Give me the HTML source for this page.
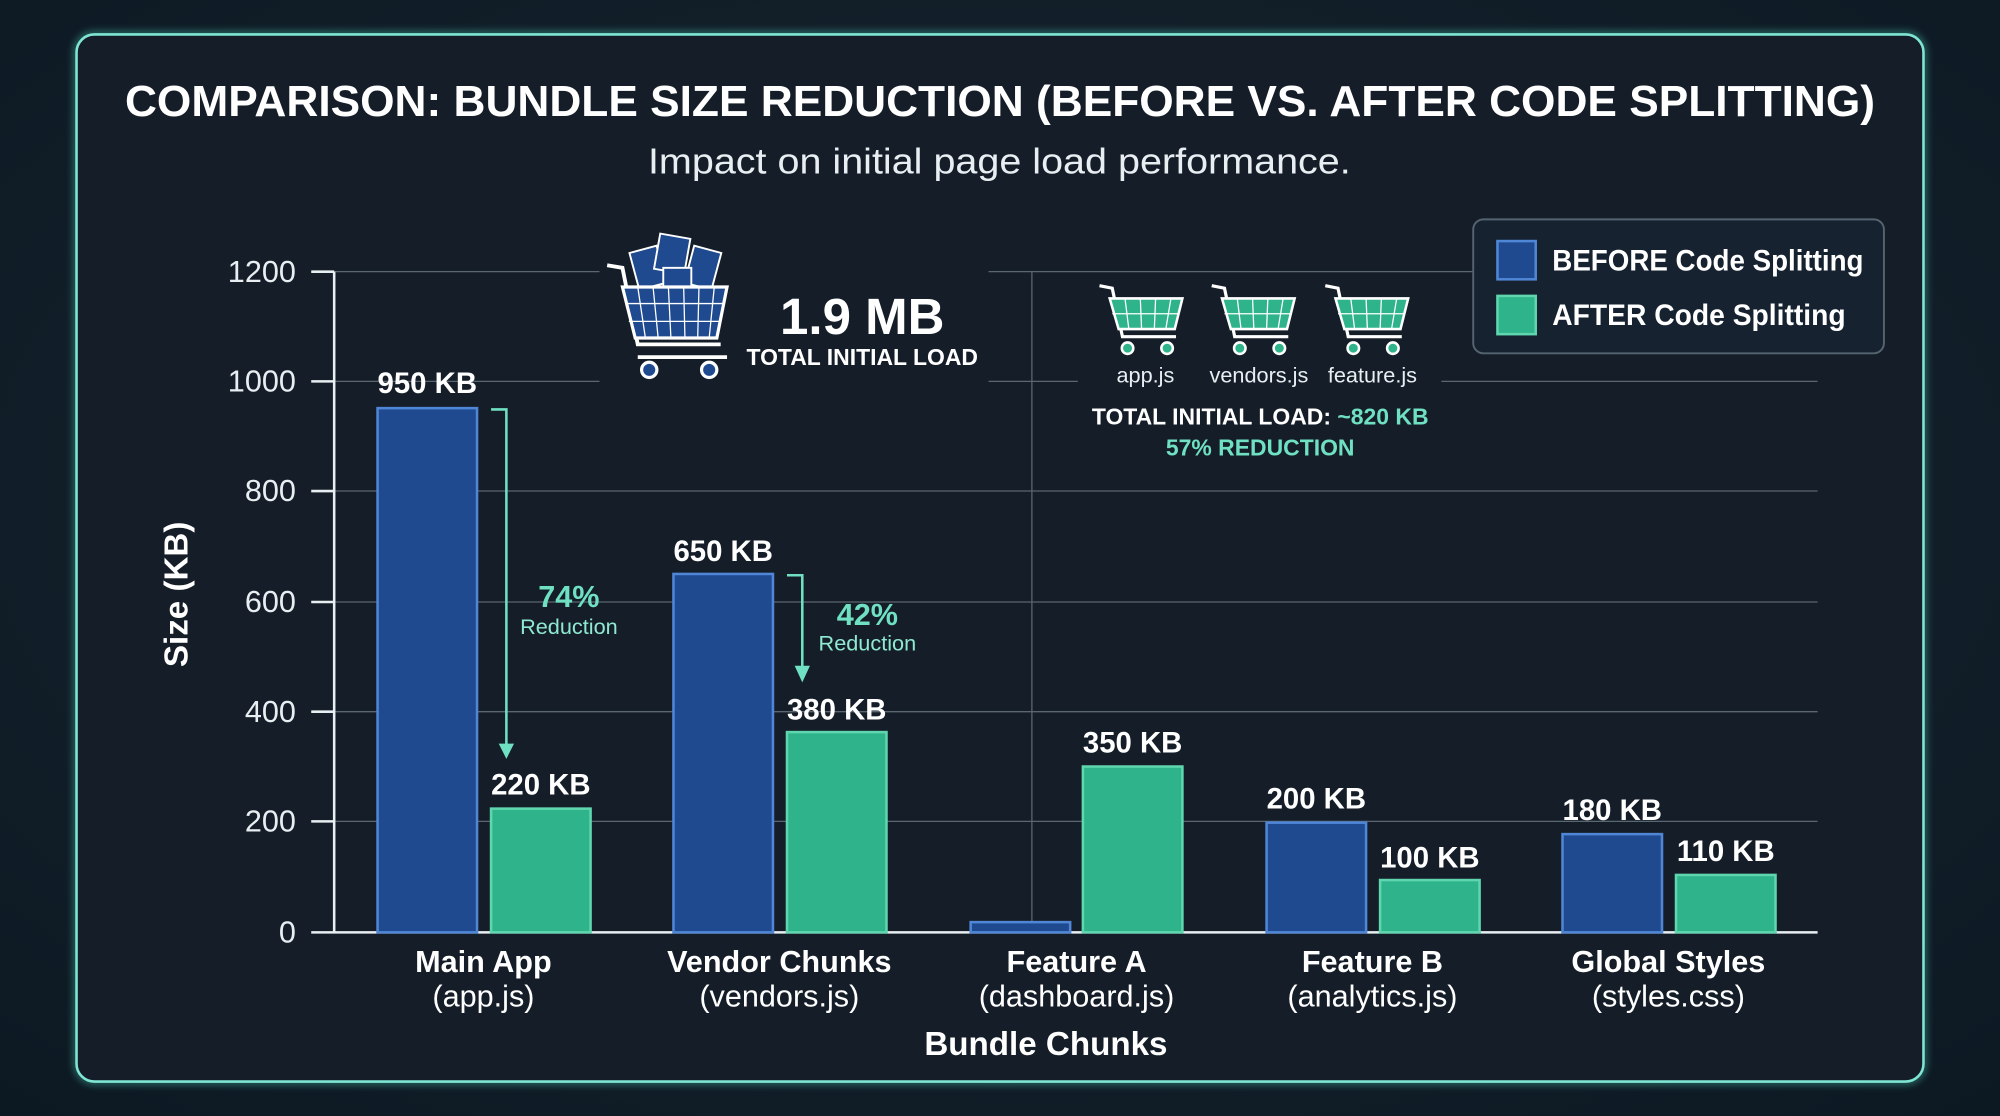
<!DOCTYPE html>
<html><head><meta charset="utf-8"><style>
html,body{margin:0;padding:0;background:#0f1a24;}
svg{display:block;}
text{font-family:"Liberation Sans",sans-serif;}
</style></head><body>
<svg width="2000" height="1116" viewBox="0 0 1568 875" preserveAspectRatio="none">
<defs>
<radialGradient id="bg" cx="50%" cy="45%" r="75%">
<stop offset="0" stop-color="#1a2732"/><stop offset="1" stop-color="#0c1822"/>
</radialGradient>
<filter id="glow"><feGaussianBlur stdDeviation="3"/></filter>
</defs>
<rect width="1568" height="875" fill="url(#bg)"/>
<rect x="60" y="27" width="1448" height="821" rx="14" fill="none" stroke="#4fd8c0" stroke-width="5" opacity="0.45" filter="url(#glow)"/>
<rect x="60" y="27" width="1448" height="821" rx="14" fill="#151e28" stroke="#7fe6d4" stroke-width="2"/>
<text x="98" y="91" font-size="34" font-weight="bold" fill="#fff" textLength="1372" lengthAdjust="spacingAndGlyphs">COMPARISON: BUNDLE SIZE REDUCTION (BEFORE VS. AFTER CODE SPLITTING)</text>
<text x="508" y="136" font-size="28" fill="#e8eef2" textLength="551" lengthAdjust="spacingAndGlyphs">Impact on initial page load performance.</text>
<g stroke="#5a6670" stroke-width="1">
<line x1="262" y1="213" x2="1425" y2="213"/>
<line x1="262" y1="299" x2="1425" y2="299"/>
<line x1="262" y1="385" x2="1425" y2="385"/>
<line x1="262" y1="472" x2="1425" y2="472"/>
<line x1="262" y1="558" x2="1425" y2="558"/>
<line x1="262" y1="644" x2="1425" y2="644"/>
<line x1="809" y1="213" x2="809" y2="731"/>
</g>
<g stroke="#e8eef2" stroke-width="2">
<line x1="262" y1="213" x2="262" y2="731"/>
<line x1="244" y1="731" x2="1425" y2="731"/>
<line x1="244" y1="213" x2="262" y2="213"/><line x1="244" y1="299" x2="262" y2="299"/><line x1="244" y1="385" x2="262" y2="385"/><line x1="244" y1="472" x2="262" y2="472"/><line x1="244" y1="558" x2="262" y2="558"/><line x1="244" y1="644" x2="262" y2="644"/>
</g>
<g font-size="24" fill="#e8eef2" text-anchor="end">
<text x="232" y="221">1200</text><text x="232" y="307">1000</text><text x="232" y="393">800</text><text x="232" y="480">600</text><text x="232" y="566">400</text><text x="232" y="652">200</text><text x="232" y="739">0</text>
</g>
<text transform="translate(147,466) rotate(-90)" text-anchor="middle" font-size="26" font-weight="bold" fill="#fff">Size (KB)</text>
<g fill="#1f4a8f" stroke="#4f86d6" stroke-width="2">
<rect x="296" y="320" width="78" height="411"/>
<rect x="528" y="450" width="78" height="281"/>
<rect x="761" y="723" width="78" height="8"/>
<rect x="993" y="645" width="78" height="86"/>
<rect x="1225" y="654" width="78" height="77"/>
</g>
<g fill="#2fb38a" stroke="#5fd6ae" stroke-width="2">
<rect x="385" y="634" width="78" height="97"/>
<rect x="617" y="574" width="78" height="157"/>
<rect x="849" y="601" width="78" height="130"/>
<rect x="1082" y="690" width="78" height="41"/>
<rect x="1314" y="686" width="78" height="45"/>
</g>
<g font-size="23" font-weight="bold" fill="#fff" text-anchor="middle">
<text x="335" y="308">950 KB</text><text x="424" y="623">220 KB</text>
<text x="567" y="440">650 KB</text><text x="656" y="564">380 KB</text>
<text x="888" y="590">350 KB</text>
<text x="1032" y="634">200 KB</text><text x="1121" y="680">100 KB</text>
<text x="1264" y="643">180 KB</text><text x="1353" y="675">110 KB</text>
</g>
<g stroke="#6fe0c2" stroke-width="2" fill="none">
<polyline points="385,321 397,321 397,585"/>
<polyline points="617,451 629,451 629,525"/>
</g>
<polygon points="391,583 403,583 397,595" fill="#6fe0c2"/>
<polygon points="623,522 635,522 629,535" fill="#6fe0c2"/>
<text x="446" y="476" text-anchor="middle" font-size="24" font-weight="bold" fill="#6fe0c2">74%</text>
<text x="446" y="497" text-anchor="middle" font-size="17" fill="#8fe8d0">Reduction</text>
<text x="680" y="490" text-anchor="middle" font-size="24" font-weight="bold" fill="#6fe0c2">42%</text>
<text x="680" y="510" text-anchor="middle" font-size="17" fill="#8fe8d0">Reduction</text>
<g font-size="24" fill="#fff" text-anchor="middle">
<text x="379" y="762" font-weight="bold">Main App</text><text x="379" y="789">(app.js)</text>
<text x="611" y="762" font-weight="bold">Vendor Chunks</text><text x="611" y="789">(vendors.js)</text>
<text x="844" y="762" font-weight="bold">Feature A</text><text x="844" y="789">(dashboard.js)</text>
<text x="1076" y="762" font-weight="bold">Feature B</text><text x="1076" y="789">(analytics.js)</text>
<text x="1308" y="762" font-weight="bold">Global Styles</text><text x="1308" y="789">(styles.css)</text>
</g>
<text x="820" y="827" text-anchor="middle" font-size="26" font-weight="bold" fill="#fff">Bundle Chunks</text>
<rect x="470" y="175" width="305" height="125" fill="#151e28"/>
<g>
<rect x="497" y="195" width="22" height="30" fill="#1f4a8f" stroke="#fff" stroke-width="1.5" transform="rotate(-15 508 210)"/>
<rect x="515" y="185" width="24" height="28" fill="#1f4a8f" stroke="#fff" stroke-width="1.5" transform="rotate(10 527 199)"/>
<rect x="540" y="195" width="22" height="30" fill="#1f4a8f" stroke="#fff" stroke-width="1.5" transform="rotate(15 551 210)"/>
<rect x="520" y="210" width="22" height="22" fill="#1f4a8f" stroke="#fff" stroke-width="1.5"/>
<path d="M476 208 L488 210 L500 270 L565 270" stroke="#fff" stroke-width="3" fill="none"/>
<path d="M488 225 L570 225 L562 265 L498 265 Z" fill="#1f4a8f" stroke="#fff" stroke-width="2.5"/>
<g stroke="#fff" stroke-width="1"><line x1="500" y1="225" x2="506" y2="265"/><line x1="512" y1="225" x2="516" y2="265"/><line x1="524" y1="225" x2="526" y2="265"/><line x1="536" y1="225" x2="537" y2="265"/><line x1="548" y1="225" x2="547" y2="265"/><line x1="560" y1="225" x2="556" y2="265"/><line x1="490" y1="238" x2="567" y2="238"/><line x1="493" y1="252" x2="565" y2="252"/></g>
<circle cx="509" cy="290" r="6" fill="#1f4a8f" stroke="#fff" stroke-width="2.5"/>
<circle cx="556" cy="290" r="6" fill="#1f4a8f" stroke="#fff" stroke-width="2.5"/>
<line x1="500" y1="280" x2="570" y2="280" stroke="#fff" stroke-width="3"/>
</g>
<text x="676" y="262" text-anchor="middle" font-size="40" font-weight="bold" fill="#fff">1.9 MB</text>
<text x="676" y="286" text-anchor="middle" font-size="18" font-weight="bold" fill="#fff">TOTAL INITIAL LOAD</text>
<rect x="845" y="215" width="285" height="92" fill="#151e28"/>
<g id="sc">
<path d="M862 224 L872 226 L880 264 L922 264" stroke="#fff" stroke-width="2.5" fill="none"/>
<path d="M870 234 L927 234 L921 258 L877 258 Z" fill="#2fb38a" stroke="#fff" stroke-width="2"/>
<g stroke="#fff" stroke-width="1"><line x1="882" y1="234" x2="885" y2="258"/><line x1="894" y1="234" x2="895" y2="258"/><line x1="906" y1="234" x2="905" y2="258"/><line x1="918" y1="234" x2="914" y2="258"/><line x1="872" y1="246" x2="924" y2="246"/></g>
<circle cx="884" cy="273" r="4.5" fill="#2fb38a" stroke="#fff" stroke-width="2"/>
<circle cx="915" cy="273" r="4.5" fill="#2fb38a" stroke="#fff" stroke-width="2"/>
</g>
<use href="#sc" x="88"/>
<use href="#sc" x="177"/>
<g font-size="17" fill="#e8eef2" text-anchor="middle">
<text x="898" y="300">app.js</text><text x="987" y="300">vendors.js</text><text x="1076" y="300">feature.js</text>
</g>
<text x="988" y="333" text-anchor="middle" font-size="18" font-weight="bold" fill="#fff">TOTAL INITIAL LOAD: <tspan fill="#6fe0c2">~820 KB</tspan></text>
<text x="988" y="357" text-anchor="middle" font-size="18" font-weight="bold" fill="#6fe0c2">57% REDUCTION</text>
<rect x="1155" y="172" width="322" height="105" rx="8" fill="#162230" stroke="#556470" stroke-width="1.5"/>
<rect x="1174" y="189" width="30" height="30" fill="#1f4a8f" stroke="#4f86d6" stroke-width="2"/>
<rect x="1174" y="232" width="30" height="30" fill="#2fb38a" stroke="#5fd6ae" stroke-width="2"/>
<text x="1217" y="212" font-size="23" font-weight="bold" fill="#fff" textLength="244" lengthAdjust="spacingAndGlyphs">BEFORE Code Splitting</text>
<text x="1217" y="255" font-size="23" font-weight="bold" fill="#fff" textLength="230" lengthAdjust="spacingAndGlyphs">AFTER Code Splitting</text>
</svg>
</body></html>
